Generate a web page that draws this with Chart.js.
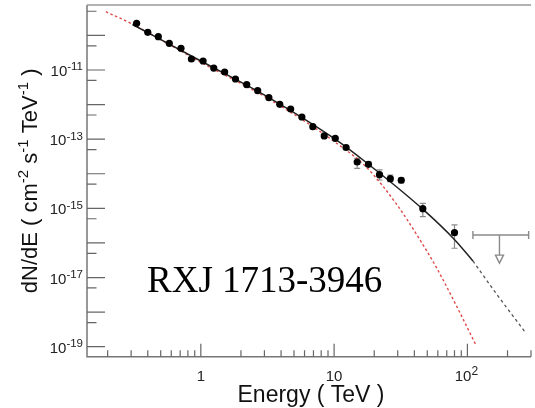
<!DOCTYPE html>
<html>
<head>
<meta charset="utf-8">
<script src="https://cdn.jsdelivr.net/npm/chart.js@4.4.0/dist/chart.umd.min.js"></script>
<style>
  html, body { margin: 0; padding: 0; background: #fff; }
  canvas { display: block; }
</style>
</head>
<body>
<canvas id="spectrum" width="535" height="408"></canvas>
<script>
// Measured spectrum points (TeV, cm^-2 s^-1 TeV^-1)
const energy = [0.33, 0.40, 0.48, 0.58, 0.71, 0.85, 1.04, 1.25, 1.51, 1.82, 2.21, 2.67, 3.24, 3.91,
  4.72, 5.73, 6.92, 8.43, 10.2, 12.3, 14.9, 18.1, 21.9, 26.4, 31.9, 46.3, 80.0];
const flux = [2.24e-10, 1.23e-10, 9.16e-11, 5.91e-11, 4.24e-11, 2.08e-11, 1.82e-11, 1.14e-11, 8.75e-12,
  5.49e-12, 3.76e-12, 2.52e-12, 1.58e-12, 1.02e-12, 7.46e-13, 4.38e-13, 2.30e-13, 1.24e-13, 1.06e-13,
  5.75e-14, 2.19e-14, 1.88e-14, 9.42e-15, 7.22e-15, 6.49e-15, 9.80e-16, 1.98e-16];
// error bars (null = hidden under the marker)
const fluxHi = [null, null, null, null, null, null, null, null, null, null, null, null, null, null,
  null, null, null, null, null, null, 2.8e-14, 2.2e-14, 1.29e-14, 9.2e-15, 7.6e-15, 1.40e-15, 3.31e-16];
const fluxLo = [null, null, null, null, null, null, null, null, null, null, null, null, null, null,
  null, null, null, null, null, null, 1.44e-14, 1.6e-14, 6.6e-15, 5.9e-15, 5.4e-15, 5.75e-16, 7.03e-17];

// upper limit
const ulEnergy = 174;
const ulEnergyLo = 110;
const ulEnergyHi = 288;
const ulFlux = 1.70e-16;
const ulArrowTip = 2.6e-17;

// model curves
const fitE = [0.307, 1.0, 3.24, 10.0, 17.7, 46.9, 80.5, 110];
const fitF = [2.07e-10, 1.82e-11, 1.60e-12, 1.05e-13, 2.01e-14, 9.0e-16, 1.22e-16, 3.02e-17];
const extE = [110, 164, 275];
const extF = [3.02e-17, 3.5e-18, 2.45e-19];
const cutE = [0.194, 0.298, 1.0, 3.24, 10.0, 17.7, 29.7, 41.8, 58.8, 82.8, 116.7];
const cutF = [4.84e-10, 2.24e-10, 1.67e-11, 1.45e-12, 8.59e-14, 1.47e-14, 1.25e-15, 1.70e-16, 1.89e-17, 1.51e-18, 1.05e-19];

// axis ticks
const xMajor = [1, 10, 100];
const xMinor = [0.2, 0.3, 0.4, 0.5, 0.6, 0.7, 0.8, 0.9, 2, 3, 4, 5, 6, 7, 8, 9, 20, 30, 40, 50, 60, 70, 80, 90, 200, 300];
const xLabels = [['1', ''], ['10', ''], ['10', '2']];
const yMajorExp = [-10, -11, -12, -13, -14, -15, -16, -17, -18, -19];
const yMinor = [5e-10, 5e-11, 5e-12, 5e-13, 5e-14, 5e-15, 5e-16, 5e-17, 5e-18, 5e-19];
const yLabelExp = [-11, -13, -15, -17, -19];

const SANS = "'Liberation Sans', Arial, Helvetica, sans-serif";

const pts = (xs, ys) => xs.map((v, i) => ({ x: v, y: ys[i] }));

// draws text with superscript pieces, left to right from (x, y) baseline
const drawRich = (ctx, parts, x, y, size, supSize, rise) => {
  let cx = x;
  parts.forEach(p => {
    ctx.font = (p.sup ? supSize : size) + 'px ' + SANS;
    ctx.fillText(p.t, cx, p.sup ? y - rise : y);
    cx += ctx.measureText(p.t).width;
  });
  return cx - x;
};
const richWidth = (ctx, parts, size, supSize) => {
  let w = 0;
  parts.forEach(p => {
    ctx.font = (p.sup ? supSize : size) + 'px ' + SANS;
    w += ctx.measureText(p.t).width;
  });
  return w;
};

const errorBars = {
  id: 'errorBars',
  beforeDatasetsDraw(chart) {
    const { ctx, scales: { x, y } } = chart;
    ctx.save();
    ctx.strokeStyle = '#8a8a8a';
    ctx.lineWidth = 1.2;
    energy.forEach((e, i) => {
      if (fluxHi[i] == null) return;
      const px = x.getPixelForValue(e);
      const top = y.getPixelForValue(fluxHi[i]);
      const bot = y.getPixelForValue(fluxLo[i]);
      ctx.beginPath();
      ctx.moveTo(px, top); ctx.lineTo(px, bot);
      ctx.moveTo(px - 3, top); ctx.lineTo(px + 3, top);
      ctx.moveTo(px - 3, bot); ctx.lineTo(px + 3, bot);
      ctx.stroke();
    });

    // upper limit marker
    const ux = x.getPixelForValue(ulEnergy);
    const ul = x.getPixelForValue(ulEnergyLo);
    const ur = x.getPixelForValue(ulEnergyHi);
    const uy = y.getPixelForValue(ulFlux);
    const tip = y.getPixelForValue(ulArrowTip);
    ctx.lineWidth = 1.4;
    ctx.beginPath();
    ctx.moveTo(ul, uy); ctx.lineTo(ur, uy);
    ctx.moveTo(ul, uy - 4); ctx.lineTo(ul, uy + 4);
    ctx.moveTo(ur, uy - 4); ctx.lineTo(ur, uy + 4);
    ctx.moveTo(ux, uy); ctx.lineTo(ux, tip - 8);
    ctx.stroke();
    ctx.beginPath();
    ctx.moveTo(ux - 4, tip - 8); ctx.lineTo(ux + 4, tip - 8); ctx.lineTo(ux, tip);
    ctx.closePath();
    ctx.fillStyle = '#fff';
    ctx.fill();
    ctx.stroke();
    ctx.restore();
  }
};

const frame = {
  id: 'frame',
  afterDraw(chart) {
    const { ctx, chartArea: a, scales: { x, y } } = chart;
    ctx.save();
    // axes
    ctx.strokeStyle = '#777';
    ctx.lineWidth = 1.5;
    ctx.beginPath();
    ctx.moveTo(a.left, a.top); ctx.lineTo(a.left, a.bottom); ctx.lineTo(a.right, a.bottom);
    ctx.stroke();
    ctx.strokeStyle = '#999';
    ctx.beginPath();
    ctx.moveTo(a.left, a.top); ctx.lineTo(a.right, a.top);
    ctx.stroke();

    // ticks pointing into the plot
    ctx.strokeStyle = '#666';
    ctx.lineWidth = 1.2;
    ctx.beginPath();
    yMajorExp.forEach(e => {
      const py = y.getPixelForValue(Math.pow(10, e));
      ctx.moveTo(a.left, py); ctx.lineTo(a.left + 18, py);
    });
    yMinor.forEach(v => {
      const py = y.getPixelForValue(v);
      if (py < a.top || py > a.bottom) return;
      ctx.moveTo(a.left, py); ctx.lineTo(a.left + 9.5, py);
    });
    xMajor.forEach(v => {
      const px = x.getPixelForValue(v);
      ctx.moveTo(px, a.bottom); ctx.lineTo(px, a.bottom - 13);
    });
    xMinor.forEach(v => {
      const px = x.getPixelForValue(v);
      ctx.moveTo(px, a.bottom); ctx.lineTo(px, a.bottom - 6.5);
    });
    ctx.stroke();

    // tick labels
    ctx.fillStyle = '#222';
    ctx.textBaseline = 'alphabetic';
    ctx.textAlign = 'left';
    yLabelExp.forEach(e => {
      const py = y.getPixelForValue(Math.pow(10, e));
      const parts = [{ t: '10' }, { t: '-' + Math.abs(e), sup: true }];
      const w = richWidth(ctx, parts, 15, 11.5);
      drawRich(ctx, parts, a.left - 4 - w, py + 6, 15, 11.5, 5.5);
    });
    xMajor.forEach((v, i) => {
      const px = x.getPixelForValue(v);
      const parts = [{ t: xLabels[i][0] }];
      if (xLabels[i][1]) parts.push({ t: xLabels[i][1], sup: true });
      const w = richWidth(ctx, parts, 15, 12);
      drawRich(ctx, parts, px - w / 2 - (xLabels[i][1] ? 1 : 0), a.bottom + 24, 15, 12, 5.5);
    });

    // axis titles
    ctx.fillStyle = '#111';
    ctx.font = '23px ' + SANS;
    ctx.textAlign = 'center';
    ctx.fillText('Energy ( TeV )', (a.left + a.right) / 2 + 2, 401.5);

    ctx.textAlign = 'left';
    const yTitle = [
      { t: 'dN/dE ( cm' }, { t: '-2', sup: true }, { t: ' s' }, { t: '-1', sup: true },
      { t: ' TeV' }, { t: '-1', sup: true }, { t: ' )' }
    ];
    const tw = richWidth(ctx, yTitle, 22, 15);
    ctx.save();
    ctx.translate(37, (a.top + a.bottom) / 2);
    ctx.rotate(-Math.PI / 2);
    drawRich(ctx, yTitle, -tw / 2, 0, 22, 15, 9);
    ctx.restore();

    // source name
    ctx.fillStyle = '#000';
    ctx.font = "37px 'Liberation Serif', 'Times New Roman', Times, serif";
    ctx.fillText('RXJ 1713-3946', 147, 291.5);
    ctx.restore();
  }
};

new Chart(document.getElementById('spectrum'), {
  type: 'scatter',
  data: {
    datasets: [
      {
        label: 'data',
        data: pts(energy, flux),
        pointRadius: 3.6,
        pointBackgroundColor: '#000',
        pointBorderColor: '#000',
        pointBorderWidth: 0,
        showLine: false
      },
      {
        label: 'fit',
        data: pts(fitE, fitF),
        showLine: true,
        borderColor: '#222',
        borderWidth: 1.5,
        pointRadius: 0,
        cubicInterpolationMode: 'monotone'
      },
      {
        label: 'fit extrapolation',
        data: pts(extE, extF),
        showLine: true,
        borderColor: '#555',
        borderWidth: 1.3,
        borderDash: [3, 3],
        pointRadius: 0,
        cubicInterpolationMode: 'monotone'
      },
      {
        label: 'cutoff model',
        data: pts(cutE, cutF),
        showLine: true,
        borderColor: '#e04a4a',
        borderWidth: 1.4,
        borderDash: [2.5, 2.5],
        pointRadius: 0,
        cubicInterpolationMode: 'monotone'
      }
    ]
  },
  options: {
    responsive: false,
    animation: false,
    devicePixelRatio: 1,
    layout: { padding: { left: 87, right: 0, top: 5, bottom: 51.3 } },
    plugins: { legend: { display: false }, tooltip: { enabled: false } },
    scales: {
      x: { type: 'logarithmic', min: 0.14, max: 300, display: false },
      y: { type: 'logarithmic', min: 5.14e-20, max: 7.57e-10, display: false }
    }
  },
  plugins: [errorBars, frame]
});
</script>
</body>
</html>
